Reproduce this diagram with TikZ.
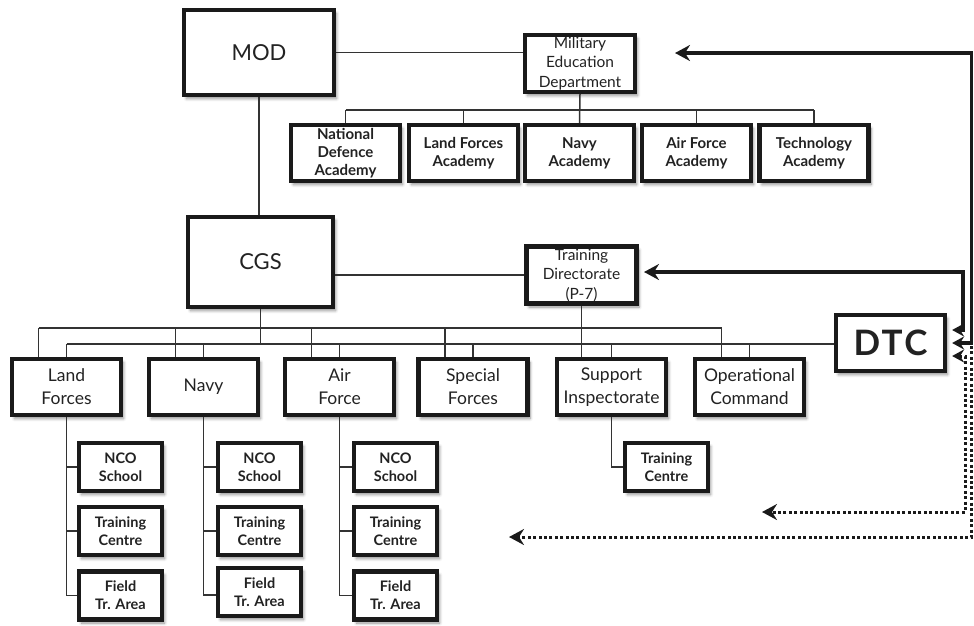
\documentclass[tikz,border=0pt]{standalone}
\usepackage{fontspec}
\setmainfont{Lato}
\usetikzlibrary{arrows.meta,shadows.blur}
\definecolor{ink}{HTML}{1A1A1A}
\definecolor{wire}{HTML}{333333}
\definecolor{txt}{HTML}{222222}
\tikzset{
  orgbox/.style={draw=ink, line width=4.2pt, fill=white, align=center, text=txt, inner sep=0pt,
    blur shadow={shadow xshift=2.5pt, shadow yshift=-3.5pt, shadow opacity=45, shadow blur steps=6, shadow blur radius=3pt}},
  bigbox/.style={orgbox, font=\fontsize{22}{24}\selectfont},
  dirbox/.style={orgbox, minimum width=110pt, minimum height=57pt, font=\fontsize{15.5}{19.5}\selectfont},
  acad/.style={orgbox, minimum width=109pt, minimum height=56pt, font=\bfseries\fontsize{15}{18}\selectfont},
  lvl/.style={orgbox, minimum width=109pt, minimum height=56pt, font=\fontsize{17.5}{23}\selectfont},
  school/.style={orgbox, minimum width=83pt, minimum height=48pt, font=\bfseries\fontsize{14.5}{18}\selectfont},
  wireline/.style={draw=wire, line width=1.5pt},
  tip/.tip={Stealth[length=15pt, width=16pt, inset=5pt]},
  smalltip/.tip={Stealth[length=12pt, width=13pt, inset=4pt]},
  solidarr/.style={draw=ink, line width=3.3pt},
  dotarr/.style={draw=ink, line width=3pt, dash pattern=on 3pt off 2.4pt},
}
\begin{document}
\begin{tikzpicture}[x=1pt,y=-1pt]
\useasboundingbox (0,0) rectangle (974,625);

% top level
\node[bigbox, minimum width=150pt, minimum height=85pt] (MOD) at (259,52.5) {MOD};
\node[bigbox, minimum width=145pt, minimum height=90pt] (CGS) at (260.5,262) {CGS};
\node[dirbox] (MED) at (580,63.5) {Military\\Education\\Department};
\node[dirbox] (TD) at (581.5,275) {Training\\Directorate\\(P-7)};

% academies
\node[acad] (NDA) at (345.5,153) {National\\Defence\\Academy};
\node[acad] (LFA) at (463.5,153) {Land Forces\\Academy};
\node[acad] (NA) at (579.5,153) {Navy\\Academy};
\node[acad] (AFA) at (696.5,153) {Air Force\\Academy};
\node[acad] (TA) at (814,153) {Technology\\Academy};

% level row
\node[lvl] (LF) at (66.5,387) {Land\\Forces};
\node[lvl] (NV) at (203.5,387) {Navy};
\node[lvl] (AF) at (339.5,387) {Air\\Force};
\node[lvl] (SF) at (473,387) {Special\\Forces};
\node[lvl] (SI) at (611.5,387) {Support\\Inspectorate};
\node[lvl] (OC) at (749.5,387) {Operational\\Command};
\node[orgbox, minimum width=109pt, minimum height=56pt, font=\bfseries\fontsize{35}{36}\selectfont\addfontfeature{LetterSpace=7}] (DTC) at (890.5,343) {DTC};

% schools
\node[school] (LFn) at (120.5,467) {NCO\\School};
\node[school] (LFt) at (120.5,531) {Training\\Centre};
\node[school] (LFf) at (120.5,595.5) {Field\\Tr. Area};
\node[school] (NVn) at (259.5,467) {NCO\\School};
\node[school] (NVt) at (259.5,531) {Training\\Centre};
\node[school] (NVf) at (259.5,592) {Field\\Tr. Area};
\node[school] (AFn) at (395.5,467) {NCO\\School};
\node[school] (AFt) at (395.5,531) {Training\\Centre};
\node[school] (AFf) at (395.5,595.5) {Field\\Tr. Area};
\node[school] (SIt) at (666.5,467) {Training\\Centre};

% wires top
\draw[wireline] (MOD.south) -- (MOD.south |- CGS.north);
\draw[wireline] (MOD.east) -- (MOD.east -| MED.west);
\draw[wireline] (TD.west) -- (TD.west -| CGS.east);
\coordinate (abus) at (0,110);
\draw[wireline] (NDA.north |- abus) -- (TA.north |- abus);
\draw[wireline] (MED.south) -- (NA.north);
\foreach \n in {NDA,LFA,AFA,TA} \draw[wireline] (\n.north |- abus) -- (\n.north);

% buses
\coordinate (ubus) at (0,328);
\coordinate (lbus) at (0,344);
\draw[wireline] ([xshift=-28pt]LF.north |- ubus) -- ([xshift=-28pt]OC.north |- ubus);
\draw[wireline] (LF.north |- lbus) -- (DTC.west |- lbus);
\draw[wireline] (CGS.south) -- (CGS.south |- lbus);
\draw[wireline] (TD.south) -- (TD.south |- SI.north);
\foreach \n in {LF,NV,AF,SF,OC} \draw[wireline] ([xshift=-28pt]\n.north |- ubus) -- ([xshift=-28pt]\n.north);
\foreach \n in {LF,NV,AF,SF,SI,OC} \draw[wireline] (\n.north |- lbus) -- (\n.north);

% columns
\draw[wireline] (LF.south) |- (LFf.west);
\draw[wireline] (LF.south |- LFn.west) -- (LFn.west);
\draw[wireline] (LF.south |- LFt.west) -- (LFt.west);
\draw[wireline] (NV.south) |- ([yshift=-3pt]NVf.west);
\draw[wireline] (NV.south |- NVn.west) -- (NVn.west);
\draw[wireline] (NV.south |- NVt.west) -- (NVt.west);
\draw[wireline] (AF.south) |- (AFf.west);
\draw[wireline] (AF.south |- AFn.west) -- (AFn.west);
\draw[wireline] (AF.south |- AFt.west) -- (AFt.west);
\draw[wireline] (SI.south) |- (SIt.west);

% DTC arrows
\coordinate (medtip) at (675,53);
\coordinate (tdtip) at (644,272);
\coordinate (outerc) at (971.5,343);
\coordinate (lowtip) at (762,512);
\coordinate (farTip) at (509,537);
\draw[solidarr, {tip}-{smalltip}] (tdtip) -- (963,272) -- (963,330) -- ([xshift=5pt,yshift=13pt]DTC.east);
\draw[solidarr, {tip}-{smalltip}] (medtip) -- (971.5,53) -- (outerc) -- ([xshift=5pt]DTC.east);
\draw[dotarr, {smalltip}-{tip}] ([xshift=5pt,yshift=-13pt]DTC.east) -- (965,356) -- (965,512) -- (lowtip);
\draw[dotarr, -{tip}] ([yshift=-3pt]outerc) -- (971.5,537) -- (farTip);
\end{tikzpicture}
\end{document}
